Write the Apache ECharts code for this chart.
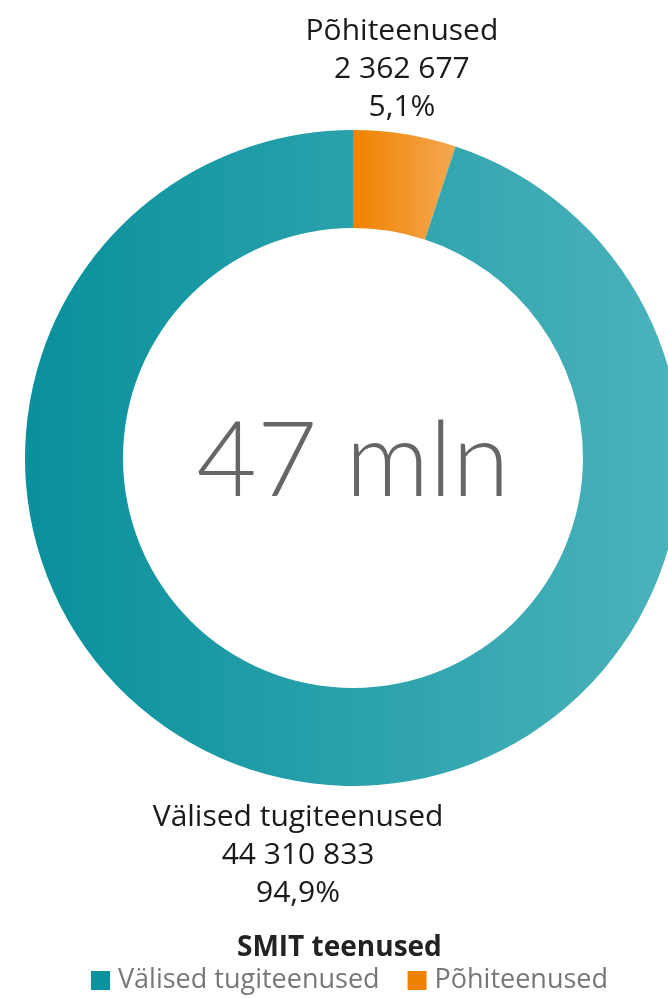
<!DOCTYPE html>
<html><head><meta charset="utf-8">
<script src="https://cdn.jsdelivr.net/npm/echarts@6/dist/echarts.min.js"></script>
<style>html,body{margin:0;padding:0;background:#fff}#c{width:668px;height:998px}</style>
</head><body><div id="c"></div>
<script>
const categories = ['Välised tugiteenused', 'Põhiteenused'];
const values = [44310833, 2362677];
const percents = ['94,9%', '5,1%'];
const centerText = '47 mln';
const legendTitle = 'SMIT teenused';

const FONT = 'Open Sans';
const CX = 353, CY = 458, R_OUT = 328, R_IN = 230;
const total = values.reduce((a, b) => a + b, 0);

function fmt(n) { return String(n).replace(/\B(?=(\d{3})+(?!\d))/g, ' '); }

const colors = [
  new echarts.graphic.LinearGradient(0, 0, 1, 0, [{offset: 0, color: '#08909c'}, {offset: 1, color: '#4cb3bb'}]),
  new echarts.graphic.LinearGradient(0, 0, 1, 0, [{offset: 0, color: '#ef8200'}, {offset: 1, color: '#f4a852'}])
];
const legendColors = ['#0a929e', '#ef8200'];

const chart = echarts.init(document.getElementById('c'), null, {renderer: 'canvas'});
chart.setOption({
  animation: false,
  title: {
    text: legendTitle, left: 232, top: 929,
    textStyle: {fontFamily: FONT, fontWeight: 'bold', fontSize: 28, color: '#222'}
  },
  legend: {
    bottom: -1, left: 86, icon: 'rect', itemWidth: 19, itemHeight: 19, itemGap: 28,
    textStyle: {fontFamily: FONT, fontSize: 27, color: '#777', padding: [0, 0, 0, 3]},
    data: categories.map((c, i) => ({name: c, itemStyle: {color: legendColors[i]}}))
  },
  graphic: [{
    type: 'text', x: CX, y: 462,
    style: {text: centerText, fontFamily: 'Lato', fontSize: 104, fontWeight: 300, fill: '#666', align: 'center', verticalAlign: 'middle'}
  }],
  series: [{
    type: 'pie',
    center: [CX, CY],
    radius: [R_IN, R_OUT],
    startAngle: 90,
    clockwise: true,
    avoidLabelOverlap: false,
    data: categories.map((c, i) => ({name: c, value: values[i], itemStyle: {color: colors[i]}})).reverse(),
    label: {
      show: true, position: 'outside',
      formatter: p => p.name + '\n' + fmt(p.value) + '\n' + percents[categories.indexOf(p.name)],
      fontFamily: FONT, fontSize: 30, lineHeight: 38, color: '#1a1a1a', align: 'center'
    },
    labelLine: {show: false},
    labelLayout: function (params) {
      const vals = values.slice().reverse();
      let acc = 0;
      for (let i = 0; i < params.dataIndex; i++) acc += vals[i];
      const mid = (acc + vals[params.dataIndex] / 2) / total * 2 * Math.PI;
      const px = CX + R_OUT * Math.sin(mid);
      const py = CY - R_OUT * Math.cos(mid);
      const top = Math.cos(mid) > 0;
      return {
        x: px - 3,
        y: top ? py - 8 : py + 17,
        align: 'center',
        verticalAlign: top ? 'bottom' : 'top'
      };
    },
    itemStyle: {borderWidth: 0},
    emphasis: {disabled: true}
  }]
});
</script></body></html>
